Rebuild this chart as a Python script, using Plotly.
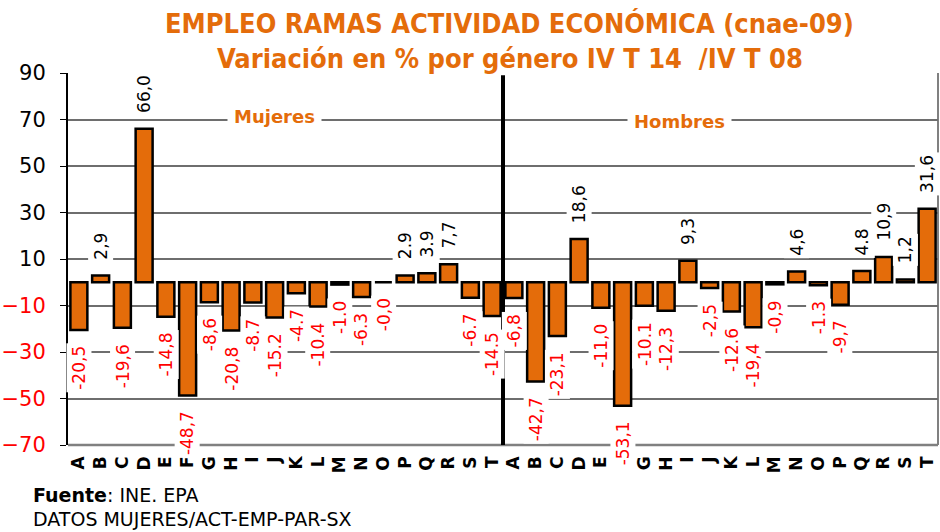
import plotly.graph_objects as go

# Activity branches (CNAE-09 sections), repeated for women and men
ramas = list("ABCDEFGHIJKLMNOPQRST")

mujeres = [-20.5, 2.9, -19.6, 66.0, -14.8, -48.7, -8.6, -20.8, -8.7, -15.2,
           -4.7, -10.4, -1.0, -6.3, -0.0, 2.9, 3.9, 7.7, -6.7, -14.5]
mujeres_txt = ["-20,5", "2,9", "-19,6", "66,0", "-14,8", "-48,7", "-8,6", "-20,8", "-8.7", "-15.2",
               "-4.7", "-10.4", "-1.0", "-6.3", "-0,0", "2.9", "3.9", "7,7", "-6.7", "-14.5"]

hombres = [-6.8, -42.7, -23.1, 18.6, -11.0, -53.1, -10.1, -12.3, 9.3, -2.5,
           -12.6, -19.4, -0.9, 4.6, -1.3, -9.7, 4.8, 10.9, 1.2, 31.6]
hombres_txt = ["-6,8", "-42,7", "-23,1", "18,6", "-11,0", "-53,1", "-10.1", "-12,3", "9,3", "-2,5",
               "-12.6", "-19,4", "-0,9", "4,6", "-1.3", "-9,7", "4.8", "10,9", "1,2", "31,6"]

ticks_pos = [10, 30, 50, 70, 90]
ticks_neg = [-70, -50, -30, -10]

ORANGE = "#E46C0A"
FONT = "DejaVu Sans"

valores = mujeres + hombres
textos = mujeres_txt + hombres_txt
etiquetas = ramas + ramas
xs = list(range(len(valores)))

fig = go.Figure()
fig.add_trace(go.Bar(
    x=xs, y=valores,
    marker=dict(color=ORANGE, line=dict(color="black", width=2.5)),
    width=0.78,
    hoverinfo="skip",
))
# empty trace so the red (negative) tick axis gets drawn
fig.add_trace(go.Scatter(x=[None], y=[None], yaxis="y2", hoverinfo="skip"))

annotations = []
# value labels, rotated, on a white box
for x, v, t in zip(xs, valores, textos):
    neg = t.startswith("-")
    annotations.append(dict(
        x=x, y=v, xref="x", yref="y", text=t, showarrow=False,
        textangle=-90,
        yanchor="top" if neg else "bottom",
        yshift=-13 if neg else 13,
        font=dict(family=FONT, size=17, color="#FF0000" if neg else "black"),
        bgcolor="white", borderpad=2,
    ))

# group headings
annotations.append(dict(x=9.0, y=71.5, xref="x", yref="y", text="<b>Mujeres</b>",
                        showarrow=False, bgcolor="white", borderpad=6,
                        font=dict(family=FONT, size=18, color=ORANGE)))
annotations.append(dict(x=27.6, y=69.0, xref="x", yref="y", text="<b>Hombres</b>",
                        showarrow=False, bgcolor="white", borderpad=6,
                        font=dict(family=FONT, size=18, color=ORANGE)))

# title
annotations.append(dict(x=0.508, y=1.132, xref="paper", yref="paper",
                        text="<b>EMPLEO RAMAS ACTIVIDAD ECONÓMICA (cnae-09)</b>",
                        showarrow=False, yanchor="middle",
                        font=dict(family="DejaVu Sans Condensed", size=27, color=ORANGE)))
annotations.append(dict(x=0.508, y=1.04, xref="paper", yref="paper",
                        text="<b>Variación en % por género IV T 14  /IV T 08</b>",
                        showarrow=False, yanchor="middle",
                        font=dict(family="DejaVu Sans Condensed", size=27, color=ORANGE)))

# source note
annotations.append(dict(x=-0.043, y=-0.135, xref="paper", yref="paper",
                        text="<b>Fuente</b>: INE. EPA", showarrow=False,
                        xanchor="left", yanchor="middle",
                        font=dict(family=FONT, size=19, color="black")))
annotations.append(dict(x=-0.043, y=-0.199, xref="paper", yref="paper",
                        text="DATOS MUJERES/ACT-EMP-PAR-SX", showarrow=False,
                        xanchor="left", yanchor="middle",
                        font=dict(family=FONT, size=19, color="black")))

shapes = [
    # separator between women and men
    dict(type="line", xref="x", yref="y", x0=19.5, x1=19.5, y0=-70, y1=89,
         line=dict(color="black", width=4), layer="above"),
    # right border
    dict(type="line", xref="paper", yref="paper", x0=1, x1=1, y0=0, y1=1,
         line=dict(color="#808080", width=2), layer="below"),
    # bottom border
    dict(type="line", xref="paper", yref="paper", x0=0, x1=1, y0=0, y1=0,
         line=dict(color="#808080", width=2.5), layer="below"),
]

yaxis_common = dict(
    range=[-70, 90], tickmode="array",
    showgrid=True, gridcolor="#6e6e6e", gridwidth=1.5,
    zeroline=False, showline=True, linecolor="black", linewidth=2,
    ticks="outside", ticklen=6, tickcolor="black", ticklabelstandoff=10,
)

fig.update_layout(
    width=940, height=532,
    margin=dict(l=68, r=2, t=73, b=87),
    paper_bgcolor="white", plot_bgcolor="white",
    showlegend=False,
    bargap=0.2,
    annotations=annotations,
    shapes=shapes,
    xaxis=dict(
        range=[-0.5, 39.5], tickmode="array", tickvals=xs,
        ticktext=[f"<b>{e}</b>" for e in etiquetas],
        tickangle=-90, showgrid=False, zeroline=False, showline=False,
        ticks="", ticklabelstandoff=7,
        tickfont=dict(family=FONT, size=17, color="black"),
    ),
    yaxis=dict(tickvals=ticks_pos,
               tickfont=dict(family=FONT, size=21, color="black"),
               **yaxis_common),
    yaxis2=dict(tickvals=ticks_neg, overlaying="y", side="left",
                tickfont=dict(family=FONT, size=21, color="#FF0000"),
                **yaxis_common),
)

fig.write_html("out.html")
